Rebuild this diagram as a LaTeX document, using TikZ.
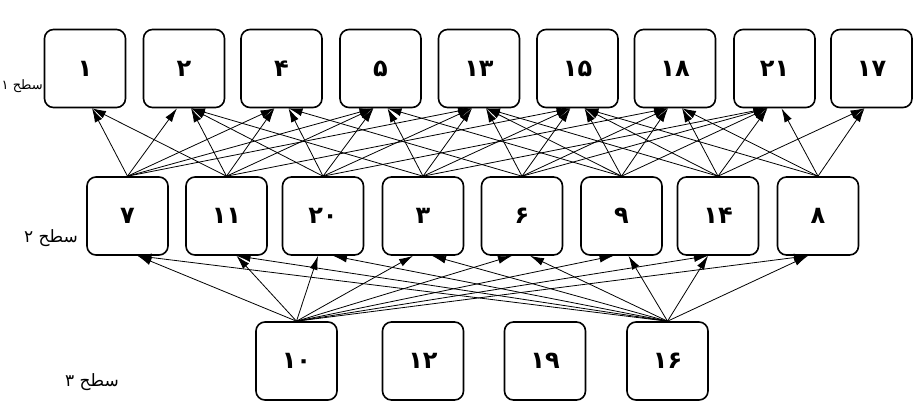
\documentclass[tikz,border=0pt]{standalone}
\usepackage{fontspec}
\setmainfont{DejaVu Sans}
\newfontfamily\arabicfont[Script=Arabic]{DejaVu Sans}
\TeXXeTstate=1
\usetikzlibrary{arrows.meta}
\tikzset{
  box/.style={draw, line width=1.6pt, rounded corners=9pt, minimum width=81pt,
    minimum height=78pt, inner sep=0pt, fill=white,
    font=\arabicfont\bfseries\fontsize{24}{28}\selectfont},
  conn/.style={line width=0.8pt, -{Latex[length=14pt,width=8pt]}},
  lvl/.style={inner sep=0pt, font=\arabicfont\fontsize{17}{20}\selectfont}
}
\begin{document}
\begin{tikzpicture}[x=1pt,y=-1pt]
\useasboundingbox[fill=white] (0,0) rectangle (920,407);
% level 1
\node[box] (t1) at (85,68.5) {۱};
\node[box] (t2) at (184,68.5) {۲};
\node[box] (t3) at (281.5,68.5) {۴};
\node[box] (t4) at (380.5,68.5) {۵};
\node[box] (t5) at (479,68.5) {۱۳};
\node[box] (t6) at (577.5,68.5) {۱۵};
\node[box] (t7) at (675,68.5) {۱۸};
\node[box] (t8) at (774.5,68.5) {۲۱};
\node[box] (t9) at (871.5,68.5) {۱۷};
% level 2
\node[box] (m1) at (127.5,216) {۷};
\node[box] (m2) at (226.5,216) {۱۱};
\node[box] (m3) at (323,216) {۲۰};
\node[box] (m4) at (423,216) {۳};
\node[box] (m5) at (522,216) {۶};
\node[box] (m6) at (621.5,216) {۹};
\node[box] (m7) at (718,216) {۱۴};
\node[box] (m8) at (818,216) {۸};
% level 3
\node[box] (b1) at (296.5,361) {۱۰};
\node[box] (b2) at (423,361) {۱۲};
\node[box] (b3) at (545,361) {۱۹};
\node[box] (b4) at (667.5,361) {۱۶};
% level labels
\node[lvl, anchor=east, font=\arabicfont\fontsize{13}{15}\selectfont] (l1) at (43,86) {\beginR سطح ۱\endR};
\node[lvl] (l2) at (51,238) {\beginR سطح ۲\endR};
\node[lvl] (l3) at (92,382) {\beginR سطح ۳\endR};
% level 2 -> level 1
\foreach \s/\t/\o in {
  m1/t1/7, m1/t2/-7, m1/t3/-7, m1/t4/-7, m1/t5/-7,
  m2/t1/7, m2/t2/7, m2/t3/-7, m2/t4/-7, m2/t6/-7,
  m3/t2/7, m3/t3/7, m3/t4/-7, m3/t5/-7, m3/t7/-7,
  m4/t2/7, m4/t4/7, m4/t5/-7, m4/t6/-7, m4/t8/-7,
  m5/t3/7, m5/t5/7, m5/t6/-7, m5/t7/-7, m5/t8/-7,
  m6/t4/7, m6/t5/7, m6/t6/7, m6/t7/-7, m6/t8/-7,
  m7/t5/7, m7/t6/7, m7/t7/7, m7/t8/-7, m7/t9/-7,
  m8/t6/7, m8/t7/7, m8/t8/7, m8/t9/-7}
  \draw[conn] (\s.north) -- ([xshift=\o pt]\t.south);
% level 3 -> level 2
\foreach \s/\t/\o in {
  b1/m1/10, b1/m2/10, b1/m3/-5, b1/m4/-10, b1/m5/-10, b1/m6/-8, b1/m7/-10, b1/m8/-10,
  b4/m1/10, b4/m2/10, b4/m3/10, b4/m4/9, b4/m5/8, b4/m6/7, b4/m7/-10, b4/m8/-10}
  \draw[conn] (\s.north) -- ([xshift=\o pt]\t.south);
\end{tikzpicture}
\end{document}
